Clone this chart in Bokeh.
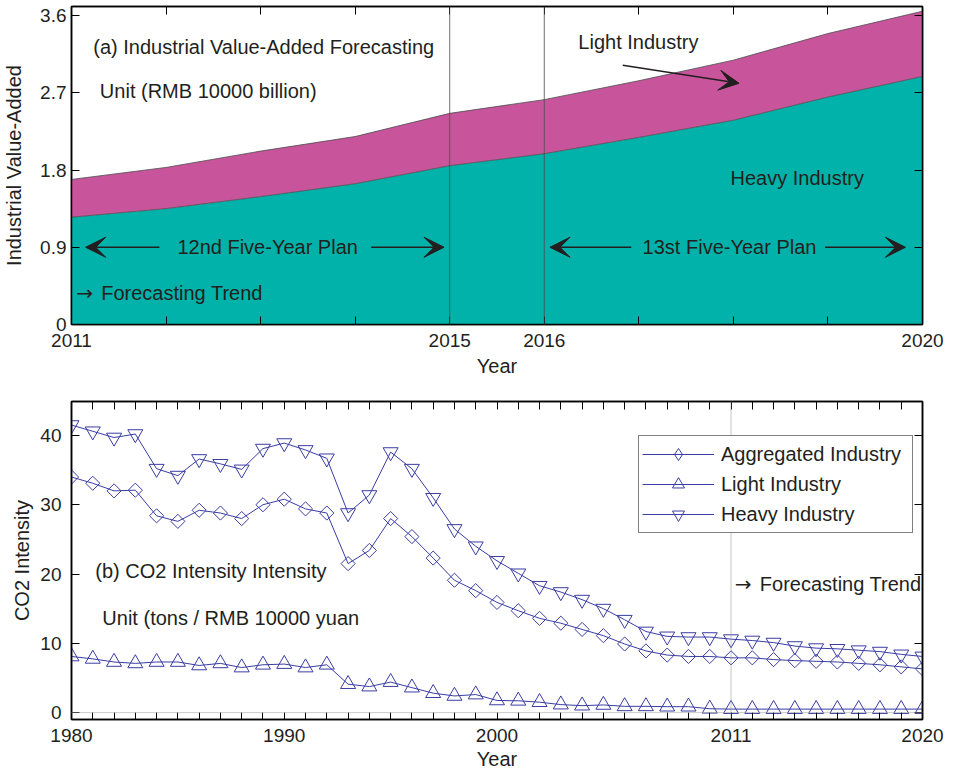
import numpy as np
from bokeh.plotting import figure
from bokeh.models import (ColumnDataSource, Range1d, LinearAxis, FixedTicker, Span,
                          Label, Arrow, VeeHead, Legend, LegendItem)
from bokeh.layouts import column
from bokeh.embed import file_html
from bokeh.resources import INLINE

# ---------------- data: (a) industrial value-added ----------------
years_a = [2011, 2012, 2013, 2014, 2015, 2016, 2017, 2018, 2019, 2020]
heavy_value_added = [1.25, 1.35, 1.49, 1.64, 1.85, 1.99, 2.18, 2.38, 2.65, 2.89]
light_value_added = [0.44, 0.48, 0.53, 0.55, 0.61, 0.63, 0.66, 0.70, 0.74, 0.76]
a_labelled_years = [2011, 2015, 2016, 2020]
a_yticks = [0, 0.9, 1.8, 2.7, 3.6]
a_ytick_labels = ["0", "0.9", "1.8", "2.7", "3.6"]
plan_boundaries = [2015, 2016]

# ---------------- data: (b) CO2 intensity ----------------
years_b = list(range(1980, 2021))
aggregated_ci = [34.0, 33.1, 32.0, 32.1, 28.4, 27.6, 29.2, 28.8, 28.0, 30.0,
                 30.8, 29.4, 28.8, 21.5, 23.4, 28.0, 25.4, 22.3, 19.1, 17.6,
                 15.9, 14.7, 13.6, 12.9, 12.0, 11.1, 9.9, 8.9, 8.3, 8.1,
                 8.1, 7.9, 7.9, 7.65, 7.5, 7.4, 7.3, 7.1, 6.9, 6.6, 6.3]
light_ci = [8.1, 7.75, 7.3, 7.1, 7.3, 7.3, 6.8, 7.1, 6.5, 6.9,
            7.0, 6.5, 6.9, 4.1, 3.75, 4.4, 3.6, 2.8, 2.4, 2.6,
            1.75, 1.7, 1.5, 1.15, 1.0, 1.1, 0.9, 0.9, 0.85, 0.85,
            0.55, 0.5, 0.5, 0.5, 0.5, 0.5, 0.5, 0.5, 0.5, 0.5, 0.5]
heavy_ci = [41.5, 40.6, 39.7, 40.2, 35.2, 34.2, 36.6, 35.9, 35.1, 38.1,
            38.9, 37.9, 36.7, 28.8, 31.4, 37.6, 35.2, 31.0, 26.5, 24.0,
            21.9, 20.1, 18.3, 17.4, 16.3, 15.0, 13.4, 11.7, 11.0, 10.9,
            10.9, 10.6, 10.4, 10.1, 9.6, 9.3, 9.2, 9.0, 8.8, 8.4, 8.1]
b_labelled_years = [1980, 1990, 2000, 2011, 2020]
b_yticks = [0, 10, 20, 30, 40]
forecast_start_b = 2011

# ---------------- style ----------------
FONT = "Liberation Sans"
ARROW_FONT = "DejaVu Sans"
TXT = "#231F20"
TEAL = "#00B2A9"
MAGENTA = "#C8559C"
BLUE = "#3A3DA3"
TICK_FS = "19px"
LAB_FS = "20px"


def style_axis(ax, ticks, labels=None, label_standoff=5, axis_label_standoff=5, hide_labels=False):
    ax.ticker = FixedTicker(ticks=ticks)
    ax.major_tick_in = 8
    ax.major_tick_out = 0
    ax.minor_tick_in = 0
    ax.minor_tick_out = 0
    ax.axis_line_color = "black"
    ax.axis_line_width = 1.5
    ax.major_tick_line_color = "black"
    ax.major_tick_line_width = 1
    ax.major_label_text_font = FONT
    ax.major_label_text_font_size = TICK_FS
    ax.major_label_text_color = TXT
    ax.major_label_standoff = label_standoff
    ax.axis_label_text_font = FONT
    ax.axis_label_text_font_size = LAB_FS
    ax.axis_label_text_font_style = "normal"
    ax.axis_label_text_color = TXT
    ax.axis_label_standoff = axis_label_standoff
    if hide_labels:
        ax.major_label_overrides = {t: "" for t in ticks}
        ax.major_label_text_font_size = "0px"
        ax.major_label_standoff = 0
    elif labels is not None:
        ax.major_label_overrides = labels


def mirror_axes(p, xticks, yticks):
    top = LinearAxis()
    style_axis(top, xticks, hide_labels=True)
    p.add_layout(top, "above")
    right = LinearAxis()
    style_axis(right, yticks, hide_labels=True)
    p.add_layout(right, "right")


def add_text(p, x, y, text, font=FONT, size=LAB_FS, x_offset=0):
    p.add_layout(Label(x=x, y=y, text=text, text_font=font, text_font_size=size,
                       text_color=TXT, text_baseline="middle", text_align="left",
                       x_offset=x_offset))


def add_trend(p, x, y):
    # thin arrow glyph followed by the caption, as in the original
    add_text(p, x, y, "\u2192", font=ARROW_FONT, size="20px")
    add_text(p, x, y, "Forecasting Trend", x_offset=25)


def add_arrow(p, x0, y0, x1, y1):
    p.add_layout(Arrow(end=VeeHead(size=20, fill_color=TXT, line_color=TXT, line_width=1),
                       x_start=x0, y_start=y0, x_end=x1, y_end=y1,
                       line_color=TXT, line_width=1.5))


# ================= (a) =================
p1 = figure(width=946, height=385, x_range=Range1d(2011, 2020), y_range=Range1d(0, 3.705),
            output_backend="svg", toolbar_location=None,
            min_border_left=65, min_border_right=24, min_border_top=6, min_border_bottom=61,
            x_axis_label="Year", y_axis_label="Industrial Value-Added")
p1.xgrid.visible = False
p1.ygrid.visible = False
p1.outline_line_color = "black"
p1.outline_line_width = 1.5

src_a = ColumnDataSource(dict(year=years_a, heavy=heavy_value_added, light=light_value_added))
p1.varea_stack(stackers=["heavy", "light"], x="year", color=[TEAL, MAGENTA], source=src_a)
p1.vline_stack(stackers=["heavy", "light"], x="year", color="#4a4a4a", line_width=0.8, source=src_a)

for yr in plan_boundaries:
    p1.add_layout(Span(location=yr, dimension="height", line_color="#4a4a4a", line_width=0.8))

style_axis(p1.xaxis[0], years_a,
           labels={y: (str(y) if y in a_labelled_years else "") for y in years_a},
           label_standoff=9, axis_label_standoff=5)
style_axis(p1.yaxis[0], a_yticks, labels=dict(zip(a_yticks, a_ytick_labels)),
           label_standoff=5, axis_label_standoff=12)
mirror_axes(p1, years_a, a_yticks)

add_text(p1, 2011.23, 3.23, "(a) Industrial Value-Added Forecasting")
add_text(p1, 2011.30, 2.715, "Unit (RMB 10000 billion)")
add_text(p1, 2012.12, 0.9, "12nd Five-Year Plan")
add_arrow(p1, 2011.93, 0.9, 2011.15, 0.9)
add_arrow(p1, 2014.17, 0.9, 2014.94, 0.9)
add_trend(p1, 2011.05, 0.37)
add_text(p1, 2016.36, 3.29, "Light Industry")
add_arrow(p1, 2016.83, 3.02, 2018.06, 2.81)
add_text(p1, 2017.97, 1.71, "Heavy Industry")
add_text(p1, 2017.04, 0.9, "13st Five-Year Plan")
add_arrow(p1, 2016.92, 0.9, 2016.06, 0.9)
add_arrow(p1, 2018.97, 0.9, 2019.82, 0.9)

# ================= (b) =================
p2 = figure(width=946, height=387, x_range=Range1d(1980, 2020), y_range=Range1d(-1.0, 44.9),
            output_backend="svg", toolbar_location=None,
            min_border_left=65, min_border_right=24, min_border_top=16, min_border_bottom=53,
            x_axis_label="Year", y_axis_label="CO2 Intensity")
p2.xgrid.visible = False
p2.ygrid.visible = False
p2.outline_line_color = "black"
p2.outline_line_width = 1.5
# an auxiliary x range, used only so that the legend's diamond sample is not drawn in the frame
p2.extra_x_ranges = {"legend_only": Range1d(0, 1)}

p2.add_layout(Span(location=0, dimension="width", line_color="#9a9a9a", line_dash="1 1", line_width=1))
p2.add_layout(Span(location=forecast_start_b, dimension="height", line_color="#8a8a8a",
                   line_dash="1 1", line_width=1))

src_b = ColumnDataSource(dict(year=years_b, agg=aggregated_ci, light=light_ci, heavy=heavy_ci))
la = p2.line("year", "agg", source=src_b, line_color=BLUE, line_width=1)
sa = p2.scatter("year", "agg", source=src_b, marker="square", angle=np.pi / 4, size=10,
                fill_color=None, line_color=BLUE, line_width=1)
ll = p2.line("year", "light", source=src_b, line_color=BLUE, line_width=1)
sl = p2.scatter("year", "light", source=src_b, marker="triangle", size=15,
                fill_color=None, line_color=BLUE, line_width=1)
lh = p2.line("year", "heavy", source=src_b, line_color=BLUE, line_width=1)
sh = p2.scatter("year", "heavy", source=src_b, marker="inverted_triangle", size=15,
                fill_color=None, line_color=BLUE, line_width=1)
# legend sample for the diamond series (legend markers are never rotated)
sa_leg = p2.scatter("year", "agg", source=src_b, x_range_name="legend_only",
                    marker="diamond", size=14, fill_color=None, line_color=BLUE, line_width=1)

style_axis(p2.xaxis[0], years_b,
           labels={y: (str(y) if y in b_labelled_years else "") for y in years_b},
           label_standoff=9, axis_label_standoff=3)
style_axis(p2.yaxis[0], b_yticks, label_standoff=10, axis_label_standoff=4)
p2.xaxis[0].major_tick_in = 7
mirror_axes(p2, years_b, b_yticks)

legend = Legend(items=[LegendItem(label="Aggregated Industry", renderers=[la, sa_leg]),
                       LegendItem(label="Light Industry", renderers=[ll, sl]),
                       LegendItem(label="Heavy Industry", renderers=[lh, sh])],
                location=(567, 186), margin=0, padding=3, spacing=0,
                label_height=30, glyph_height=30, glyph_width=72, label_standoff=7,
                label_width=188,
                label_text_font=FONT, label_text_font_size=LAB_FS, label_text_color=TXT,
                border_line_color="black", border_line_width=1.5,
                background_fill_color="white", background_fill_alpha=1)
p2.add_layout(legend)

add_text(p2, 1981.12, 20.5, "(b) CO2 Intensity Intensity")
add_text(p2, 1981.45, 13.7, "Unit (tons / RMB 10000 yuan")
add_trend(p2, 2011.18, 18.5)

layout = column(p1, p2, spacing=0)
open("out.html", "w").write(file_html(layout, INLINE))
